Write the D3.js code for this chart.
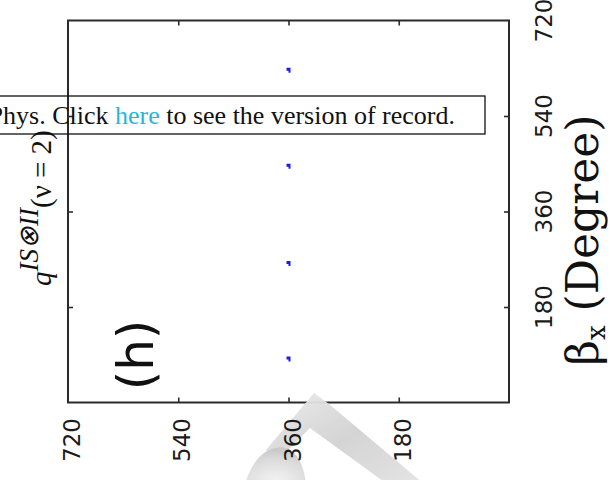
<!DOCTYPE html>
<html>
<head>
<meta charset="utf-8">
<script src="https://cdn.jsdelivr.net/npm/d3@7"></script>
<style>
  html, body { margin: 0; padding: 0; background: #fff; }
  svg { display: block; }
</style>
</head>
<body>
<svg id="chart" width="610" height="480"></svg>
<script>
// Panel (h): q^{IS⊗II}(ν = 2) against βx, page turned a quarter turn.
const betaX = [83, 263, 446, 627];          // βx (Degree)
const qValues = [360, 360, 360, 360];       // q value at each βx
const qTicks = [180, 360, 540, 720];
const betaTicks = [180, 360, 540, 720];
const innerTicks = [180, 360, 540];

const svg = d3.select("#chart");

// q runs right-to-left across the page, βx runs bottom-to-top
const qScale = d3.scaleLinear().domain([0, 720]).range([509, 68]);
const bScale = d3.scaleLinear().domain([0, 720]).range([402.5, 20.5]);

const xL = qScale(720), xR = qScale(0), yT = bScale(720), yB = bScale(0);
const frameColor = "#2b2b2b";

// inward ticks on all four sides
const tickLen = 5;
svg.append("g").attr("transform", `translate(0,${yB})`)
  .call(d3.axisBottom(qScale).tickValues(innerTicks).tickSizeInner(-tickLen).tickSizeOuter(0).tickFormat(""));
svg.append("g").attr("transform", `translate(0,${yT})`)
  .call(d3.axisTop(qScale).tickValues(innerTicks).tickSizeInner(-tickLen).tickSizeOuter(0).tickFormat(""));
svg.append("g").attr("transform", `translate(${xL},0)`)
  .call(d3.axisLeft(bScale).tickValues(innerTicks).tickSizeInner(-tickLen).tickSizeOuter(0).tickFormat(""));
svg.append("g").attr("transform", `translate(${xR},0)`)
  .call(d3.axisRight(bScale).tickValues(innerTicks).tickSizeInner(-tickLen).tickSizeOuter(0).tickFormat(""));
svg.selectAll(".domain").remove();
svg.selectAll(".tick line").attr("stroke", frameColor).attr("stroke-width", 1.6);

// plot frame
svg.append("rect")
  .attr("x", xL).attr("y", yT)
  .attr("width", xR - xL).attr("height", yB - yT)
  .attr("fill", "none").attr("stroke", frameColor).attr("stroke-width", 2);

// data points
const pts = betaX.map((b, i) => ({ b, q: qValues[i] }));
svg.append("g").selectAll("path.pt").data(pts).join("path")
  .attr("class", "pt")
  .attr("transform", d => `translate(${qScale(d.q)},${bScale(d.b)})`)
  .attr("d", "M-2,-2H2V3H0V1H-2Z")
  .attr("fill", "#1a1aee");

// grey watermark strokes along the lower edge
const defs = svg.append("defs");
const grad = defs.append("linearGradient").attr("id", "wm")
  .attr("x1", "0").attr("y1", "0").attr("x2", "1").attr("y2", "1");
grad.append("stop").attr("offset", "0").attr("stop-color", "#ececec");
grad.append("stop").attr("offset", "0.5").attr("stop-color", "#d2d2d2");
grad.append("stop").attr("offset", "1").attr("stop-color", "#e4e4e4");
const grad2 = defs.append("radialGradient").attr("id", "wm2")
  .attr("cx", "0.5").attr("cy", "0.9").attr("r", "0.8");
grad2.append("stop").attr("offset", "0").attr("stop-color", "#f2f2f2");
grad2.append("stop").attr("offset", "0.7").attr("stop-color", "#dadada");
grad2.append("stop").attr("offset", "1").attr("stop-color", "#c8c8c8");
const wm = svg.append("g").attr("opacity", 0.95);
wm.append("path")
  .attr("d", "M314,393 L329,404 L424,484 L387,484 L310,428 L279,459 L266,450 Z")
  .attr("fill", "url(#wm)");
wm.append("path")
  .attr("d", "M245,484 Q256,448 282,447 Q302,450 306,484 Z")
  .attr("fill", "url(#wm2)");

// tick labels: bottom (q) and right (βx), rotated
const tickFont = "'DejaVu Sans', sans-serif";
svg.append("g").selectAll("text").data(qTicks).join("text")
  .attr("transform", d => `translate(${qScale(d)},${yB}) rotate(-90)`)
  .attr("x", -15.5).attr("y", 12)
  .attr("text-anchor", "end")
  .attr("font-family", tickFont).attr("font-size", 23)
  .attr("fill", "#1a1a1a")
  .text(d => d);
svg.append("g").selectAll("text").data(betaTicks).join("text")
  .attr("transform", d => `translate(${xR},${bScale(d)}) rotate(-90)`)
  .attr("x", 0).attr("y", 43)
  .attr("text-anchor", "middle")
  .attr("font-family", tickFont).attr("font-size", 23)
  .attr("fill", "#1a1a1a")
  .text(d => d);

// βx axis title
const bt = svg.append("text")
  .attr("transform", `translate(598,240) rotate(-90)`)
  .attr("text-anchor", "middle")
  .attr("font-family", "'DejaVu Serif', serif").attr("font-size", 44)
  .attr("fill", "#111");
bt.append("tspan").text("β");
bt.append("tspan").attr("font-size", 26).attr("dy", 7).text("x");
bt.append("tspan").attr("dy", -7).text(" (Degree)");

// panel title
const tt = svg.append("text")
  .attr("transform", `translate(51,286) rotate(-90)`)
  .attr("text-anchor", "start")
  .attr("font-family", "'Liberation Serif', 'Times New Roman', serif").attr("font-size", 29)
  .attr("fill", "#111");
tt.append("tspan").attr("font-style", "italic").text("q");
tt.append("tspan").attr("font-style", "italic").attr("font-size", 27).attr("dy", -13).text("IS⊗II");
tt.append("tspan").attr("dy", 13).text("(ν = 2)");

// panel letter
svg.append("text")
  .attr("transform", `translate(153,355) rotate(-90)`)
  .attr("text-anchor", "middle")
  .attr("font-family", "'DejaVu Sans', sans-serif").attr("font-size", 50)
  .attr("fill", "#111")
  .text("(h)");

// version-of-record banner
svg.append("rect")
  .attr("x", -4).attr("y", 96).attr("width", 489).attr("height", 38)
  .attr("fill", "none").attr("stroke", "#111").attr("stroke-width", 1.3);
const bn = svg.append("text")
  .attr("x", 455).attr("y", 124)
  .attr("text-anchor", "end")
  .attr("font-family", "'Liberation Serif', 'Times New Roman', serif").attr("font-size", 26)
  .attr("fill", "#111");
bn.append("tspan").text("Phys. Click ");
bn.append("tspan").attr("fill", "#1fb8dc").text("here");
bn.append("tspan").text(" to see the version of record.");
</script>
</body>
</html>
